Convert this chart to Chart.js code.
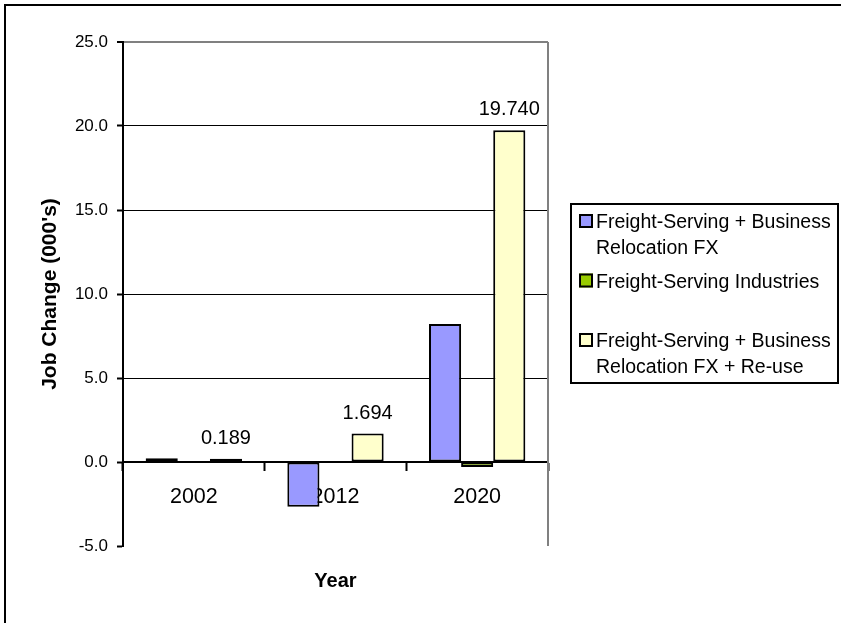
<!DOCTYPE html>
<html>
<head>
<meta charset="utf-8">
<script src="https://cdn.jsdelivr.net/npm/chart.js@4/dist/chart.umd.min.js"></script>
<style>
  html, body { margin: 0; padding: 0; background: #fff; overflow: hidden; }
  canvas { display: block; }
</style>
</head>
<body>
<canvas id="chart" width="841" height="623"></canvas>
<script>
// Job change by year (thousands of jobs)
const years = ['2002', '2012', '2020'];
const fxRelocation = [0.22, -2.66, 8.21];
const freightIndustries = [0.05, 0.0, -0.30];
const fxReuse = [0.189, 1.694, 19.740];

const seriesNames = [
  ['Freight-Serving + Business', 'Relocation FX'],
  ['Freight-Serving Industries'],
  ['Freight-Serving + Business', 'Relocation FX + Re-use']
];
const seriesColors = ['#9999FF', '#99CC00', '#FFFFCC'];

const yTicks = { min: -5, max: 25, step: 5 };
const yTitle = "Job Change (000's)";
const xTitle = 'Year';

const FONT = "'Liberation Sans', Arial, Helvetica, sans-serif";

// Outer frame of the whole chart object (open on the right and bottom edges)
const framePlugin = {
  id: 'frame',
  beforeDraw(chart) {
    const ctx = chart.ctx;
    ctx.save();
    ctx.fillStyle = '#fff';
    ctx.fillRect(0, 0, chart.width, chart.height);
    ctx.strokeStyle = '#000';
    ctx.lineWidth = 2;
    ctx.strokeRect(5, 5, chart.width + 50, chart.height + 50);
    ctx.restore();
  }
};

// Grey right edge of the plot area
const plotEdgePlugin = {
  id: 'plotEdge',
  beforeDatasetsDraw(chart) {
    const { ctx, chartArea } = chart;
    ctx.save();
    ctx.strokeStyle = '#808080';
    ctx.lineWidth = 2;
    ctx.beginPath();
    ctx.moveTo(chartArea.right, chartArea.top);
    ctx.lineTo(chartArea.right, chartArea.bottom);
    ctx.stroke();
    ctx.restore();
  }
};

// Value labels above the Re-use series bars
const valueLabelPlugin = {
  id: 'valueLabels',
  afterDatasetsDraw(chart) {
    const ctx = chart.ctx;
    const meta = chart.getDatasetMeta(2);
    const data = chart.data.datasets[2].data;
    ctx.save();
    ctx.font = '20px ' + FONT;
    ctx.fillStyle = '#000';
    ctx.textAlign = 'center';
    ctx.textBaseline = 'alphabetic';
    meta.data.forEach((bar, i) => {
      ctx.fillText(data[i].toFixed(3), bar.x, bar.y - 15);
    });
    ctx.restore();
  }
};

// Boxed legend to the right of the plot
const boxLegendPlugin = {
  id: 'boxLegend',
  afterDraw(chart) {
    const ctx = chart.ctx;
    const left = chart.chartArea.right + 23;
    const top = 204, right = 838, bottom = 383;
    ctx.save();
    ctx.fillStyle = '#fff';
    ctx.fillRect(left, top, right - left, bottom - top);
    ctx.strokeStyle = '#000';
    ctx.lineWidth = 2;
    ctx.strokeRect(left, top, right - left, bottom - top);

    ctx.font = '19.5px ' + FONT;
    ctx.textAlign = 'left';
    ctx.textBaseline = 'alphabetic';
    chart.data.datasets.forEach((ds, i) => {
      const base = 228 + i * 59.5;
      // marker
      ctx.fillStyle = ds.backgroundColor;
      ctx.fillRect(left + 8, base - 14, 14, 14);
      ctx.lineWidth = 2;
      ctx.strokeStyle = '#000';
      ctx.strokeRect(left + 9, base - 13, 12, 12);
      // text lines
      ctx.fillStyle = '#000';
      ds.label.forEach((line, j) => {
        ctx.fillText(line, left + 25, base + j * 25.5);
      });
    });
    ctx.restore();
  }
};

const datasetValues = [fxRelocation, freightIndustries, fxReuse];

new Chart(document.getElementById('chart'), {
  type: 'bar',
  data: {
    labels: years,
    datasets: datasetValues.map((vals, i) => ({
      label: seriesNames[i],
      data: vals,
      backgroundColor: seriesColors[i],
      borderColor: '#000',
      borderWidth: 2,
      borderSkipped: false,
      categoryPercentage: 0.68,
      barPercentage: 1.0,
      xAxisID: 'x',
      yAxisID: 'y'
    }))
  },
  options: {
    responsive: false,
    animation: false,
    events: [],
    layout: { padding: { left: 0, top: 42, right: 293, bottom: 0 } },
    plugins: {
      legend: { display: false },
      tooltip: { enabled: false },
      title: { display: false }
    },
    scales: {
      x: {
        type: 'category',
        axis: 'x',
        position: { y: 0 },
        z: 1,
        offset: true,
        grid: {
          drawOnChartArea: false,
          drawTicks: true,
          tickLength: 8,
          tickColor: '#000',
          tickWidth: 2,
          offset: true
        },
        border: { display: true, color: '#000', width: 2 },
        ticks: { color: '#000', font: { family: FONT, size: 21.5 }, padding: 14, maxRotation: 0 }
      },
      xt: {
        type: 'category',
        axis: 'x',
        position: 'bottom',
        labels: years,
        grid: { display: false },
        border: { display: false },
        ticks: { display: false },
        title: {
          display: true,
          text: xTitle,
          color: '#000',
          font: { family: FONT, size: 20, weight: 'bold' },
          padding: { top: 0, bottom: 30 }
        },
        afterFit(scale) { scale.height = 77; }
      },
      y: {
        type: 'linear',
        position: 'left',
        min: yTicks.min,
        max: yTicks.max,
        ticks: {
          stepSize: yTicks.step,
          color: '#000',
          font: { family: FONT, size: 17 },
          padding: 9,
          callback: v => Number(v).toFixed(1)
        },
        grid: {
          color: c => {
            const v = c.tick ? c.tick.value : null;
            if (v === yTicks.max) return '#808080';
            if (v === yTicks.min) return 'rgba(0,0,0,0)';
            return '#000';
          },
          lineWidth: c => (c.tick && c.tick.value === yTicks.max ? 2 : 1),
          tickLength: 6,
          tickColor: '#000',
          tickWidth: 2
        },
        border: { display: true, color: '#000', width: 2 },
        title: {
          display: true,
          text: yTitle,
          color: '#000',
          font: { family: FONT, size: 21, weight: 'bold' },
          padding: { top: 38, bottom: 0 }
        },
        afterFit(scale) { scale.width = 123; }
      }
    }
  },
  plugins: [framePlugin, plotEdgePlugin, valueLabelPlugin, boxLegendPlugin]
});
</script>
</body>
</html>
